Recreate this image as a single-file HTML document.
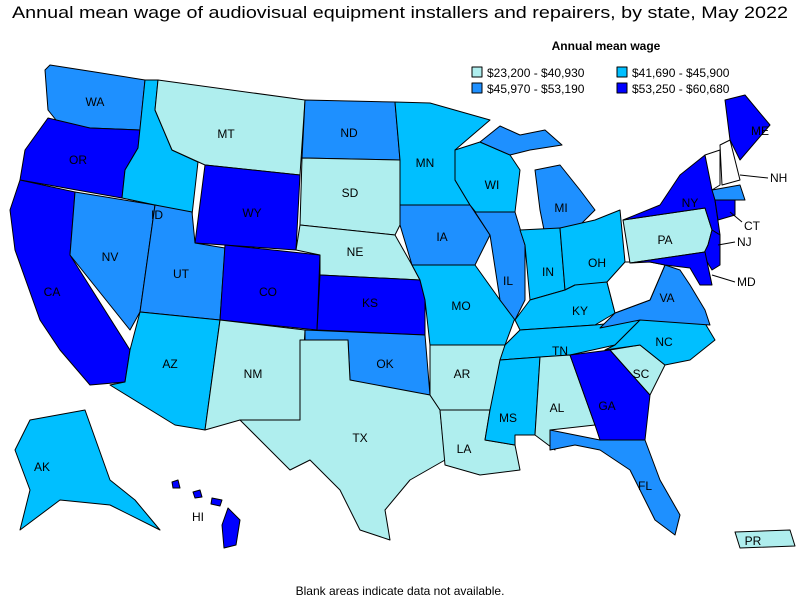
<!DOCTYPE html>
<html><head><meta charset="utf-8"><style>
html,body{margin:0;padding:0;background:#fff;}
svg{display:block;font-family:"Liberation Sans",Arial,sans-serif;}
.s{stroke:#000;stroke-width:1;stroke-linejoin:round}
.a{fill:#afeeee}.b{fill:#00bfff}.c{fill:#1e90ff}.d{fill:#0000ff}.w{fill:#fff}
.l{font-size:12px;fill:#000;text-anchor:middle}
</style></head><body>
<svg width="800" height="600" viewBox="0 0 800 600">
<text x="400" y="18" text-anchor="middle" font-size="17" textLength="776" lengthAdjust="spacingAndGlyphs">Annual mean wage of audiovisual equipment installers and repairers, by state, May 2022</text>
<text x="606" y="50" text-anchor="middle" font-size="12" font-weight="bold">Annual mean wage</text>
<rect x="472" y="67" width="10" height="10" class="s a"/><text x="487" y="77" font-size="12">$23,200 - $40,930</text>
<rect x="472" y="83" width="10" height="10" class="s c"/><text x="487" y="93" font-size="12">$45,970 - $53,190</text>
<rect x="617" y="67" width="10" height="10" class="s b"/><text x="632" y="77" font-size="12">$41,690 - $45,900</text>
<rect x="617" y="83" width="10" height="10" class="s d"/><text x="632" y="93" font-size="12">$53,250 - $60,680</text>
<g class="s">
<polygon class="c" points="50,65 95,72 145,80 140,130 90,128 60,125 48,110 45,70"/>
<polygon class="d" points="48,118 90,128 140,130 138,148 125,170 122,198 20,180 25,150"/>
<polygon class="d" points="20,180 75,192 70,255 130,350 125,382 90,385 60,350 40,320 15,250 10,210"/>
<polygon class="c" points="75,192 155,205 140,312 130,330 70,255"/>
<polygon class="b" points="145,80 158,80 155,110 172,150 198,162 192,215 155,205 122,198 125,170 138,148"/>
<polygon class="a" points="158,80 305,100 300,175 205,165 172,150 155,110"/>
<polygon class="d" points="205,165 300,175 296,250 195,243"/>
<polygon class="c" points="155,205 192,212 195,243 225,248 220,320 140,312"/>
<polygon class="b" points="140,312 220,320 205,430 175,425 110,385 125,382 130,350"/>
<polygon class="d" points="225,245 320,255 317,330 220,320"/>
<polygon class="a" points="220,320 305,330 300,420 240,420 205,430"/>
<polygon class="c" points="305,100 395,102 400,160 302,158"/>
<polygon class="a" points="302,158 400,160 400,225 395,235 300,225"/>
<polygon class="a" points="300,225 395,235 412,265 420,280 320,275 320,255 296,250"/>
<polygon class="d" points="320,275 420,280 425,300 425,335 317,330"/>
<polygon class="c" points="305,330 425,335 430,395 395,390 350,380 348,340 305,340"/>
<polygon class="a" points="300,340 348,340 350,380 430,395 440,410 445,460 410,480 385,510 390,540 360,530 340,490 310,460 290,470 265,445 240,420 300,420"/>
<polygon class="b" points="395,102 430,103 490,120 455,150 455,180 470,205 400,205 400,160"/>
<polygon class="c" points="400,205 470,205 490,235 475,265 412,265 400,225"/>
<polygon class="b" points="412,265 475,265 500,300 515,318 505,345 430,345 425,300 420,280"/>
<polygon class="a" points="430,345 505,345 500,380 490,410 440,410 430,395"/>
<polygon class="a" points="440,410 490,410 485,440 515,445 520,470 480,475 445,465"/>
<polygon class="b" points="455,150 480,142 510,155 520,170 515,212 490,230 470,205 455,180"/>
<polygon class="c" points="475,212 515,212 525,245 525,300 515,320 500,300 490,235"/>
<polygon class="c" points="535,170 560,165 580,190 595,210 580,225 545,235 540,210"/>
<polygon class="c" points="480,142 500,126 520,135 545,130 562,145 530,150 510,155"/>
<polygon class="b" points="520,230 560,228 565,290 530,300 525,245"/>
<polygon class="b" points="560,228 595,220 620,210 625,262 610,290 575,285 565,290"/>
<polygon class="b" points="515,320 530,300 565,290 575,285 607,282 615,313 595,325 520,330"/>
<polygon class="b" points="505,345 520,330 595,325 640,320 615,345 570,355 500,360"/>
<polygon class="b" points="500,360 540,357 535,435 515,435 515,445 485,440 490,410"/>
<polygon class="a" points="540,357 570,355 595,425 550,430 555,450 535,435"/>
<polygon class="d" points="570,355 610,350 650,395 645,440 600,440 595,425"/>
<polygon class="c" points="550,430 600,440 645,440 660,480 680,515 675,535 655,520 630,470 600,450 575,445 550,450"/>
<polygon class="a" points="610,350 640,345 665,365 650,395"/>
<polygon class="b" points="605,350 615,345 640,320 700,315 715,340 690,360 665,365 640,345"/>
<polygon class="c" points="600,328 615,313 650,300 665,265 680,270 690,285 705,310 710,325 640,320"/>
<polygon class="w" points="615,313 607,282 625,262 650,262 665,265 650,300"/>
<polygon class="a" points="623,220 705,208 712,230 708,245 705,252 630,263"/>
<polygon class="d" points="623,220 660,205 680,175 705,155 715,200 720,235 712,230 705,208"/>
<polygon class="d" points="708,245 712,230 720,235 720,265 712,270 703,255"/>
<polygon class="d" points="630,263 705,252 712,285 700,285 690,268 665,265 650,262"/>
<polygon class="w" points="705,155 720,150 720,185 712,190"/>
<polygon class="w" points="720,145 730,140 740,180 722,185"/>
<polygon class="d" points="725,100 745,95 770,125 740,160 730,140"/>
<polygon class="c" points="712,190 740,185 745,200 715,200"/>
<polygon class="d" points="715,200 735,200 735,215 718,220"/>
<polygon class="b" points="30,420 85,410 110,480 135,500 160,530 110,505 60,500 20,530 30,490 15,450"/>
<polygon class="d" points="172,482 178,480 180,488 173,488"/>
<polygon class="d" points="193,492 200,490 202,497 195,498"/>
<polygon class="d" points="212,498 222,500 220,506 211,504"/>
<polygon class="d" points="228,508 240,520 236,545 224,548 222,525"/>
<polygon class="a" points="735,532 790,530 795,546 740,548"/>
</g>
<g class="l">
<text x="95" y="106">WA</text><text x="78" y="164">OR</text><text x="52" y="296">CA</text>
<text x="110" y="261">NV</text><text x="157" y="219">ID</text><text x="226" y="138">MT</text>
<text x="252" y="217">WY</text><text x="181" y="278">UT</text><text x="170" y="368">AZ</text>
<text x="268" y="296">CO</text><text x="253" y="378">NM</text><text x="349" y="137">ND</text>
<text x="350" y="197">SD</text><text x="355" y="256">NE</text><text x="370" y="307">KS</text>
<text x="385" y="368">OK</text><text x="360" y="442">TX</text><text x="425" y="167">MN</text>
<text x="442" y="241">IA</text><text x="461" y="310">MO</text><text x="462" y="378">AR</text>
<text x="464" y="453">LA</text><text x="492" y="189">WI</text><text x="508" y="285">IL</text>
<text x="561" y="212">MI</text><text x="548" y="276">IN</text><text x="597" y="267">OH</text>
<text x="580" y="315">KY</text><text x="560" y="355">TN</text><text x="508" y="422">MS</text>
<text x="557" y="412">AL</text><text x="607" y="410">GA</text><text x="645" y="490">FL</text>
<text x="641" y="378">SC</text><text x="664" y="346">NC</text><text x="667" y="302">VA</text>
<text x="665" y="244">PA</text><text x="690" y="207">NY</text><text x="760" y="135">ME</text>
<text x="42" y="471">AK</text><text x="198" y="521">HI</text><text x="753" y="545">PR</text>
</g>
<g font-size="12">
<text x="770" y="182">NH</text><text x="744" y="230">CT</text><text x="737" y="246">NJ</text><text x="737" y="286">MD</text>
</g>
<g stroke="#000" stroke-width="1">
<line x1="740" y1="175" x2="768" y2="178"/><line x1="730" y1="212" x2="742" y2="222"/>
<line x1="718" y1="245" x2="735" y2="242"/><line x1="712" y1="275" x2="735" y2="282"/>
</g>
<text x="400" y="595" text-anchor="middle" font-size="12">Blank areas indicate data not available.</text>
</svg>
</body></html>
